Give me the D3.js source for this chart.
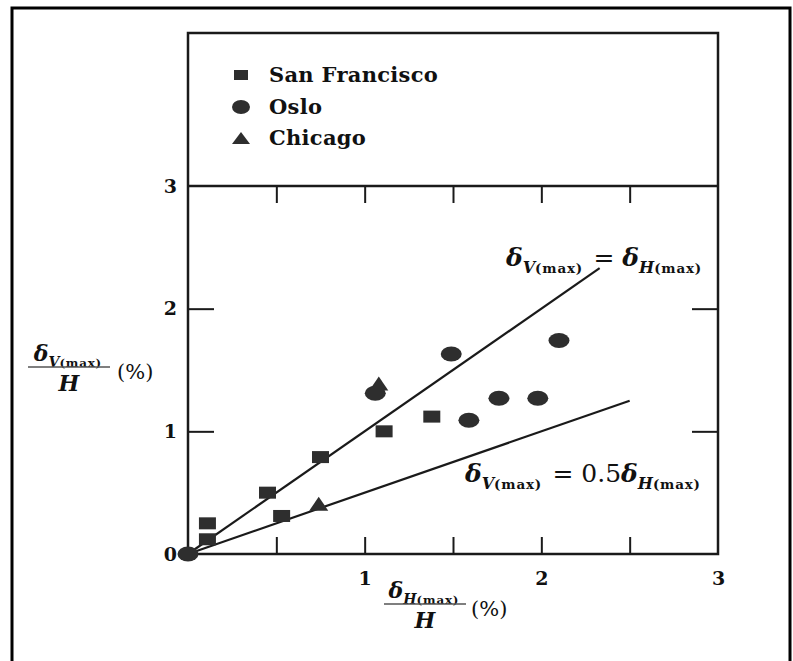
<!DOCTYPE html>
<html>
<head>
<meta charset="utf-8">
<script src="https://cdn.jsdelivr.net/npm/d3@7"></script>
<style>
  body { margin: 0; background: #fff; }
  svg { display: block; }
  text { font-family: "DejaVu Serif", "Liberation Serif", serif; fill: #111; }
</style>
</head>
<body>
<script>
// Data (x = dH(max)/H %, y = dV(max)/H %)
const sanFrancisco = [
    [0.11, 0.25], [0.11, 0.12], [0.45, 0.50], [0.53, 0.31],
    [0.75, 0.79], [1.11, 1.00], [1.38, 1.12]
];
const oslo = [
    [0.0, 0.0], [1.06, 1.31], [1.49, 1.63], [1.59, 1.09],
    [1.76, 1.27], [1.98, 1.27], [2.10, 1.74]
];
const chicago = [[0.74, 0.41], [1.08, 1.39]];
const legendNames = ["San Francisco", "Oslo", "Chicago"];
const refLines = [
    { slope: 1.0, xEnd: 2.33 },
    { slope: 0.5, xEnd: 2.50 }
];
const minorTicks = [0.5, 1, 1.5, 2, 2.5];
const xLabels = [1, 2, 3];
const yTicks = [1, 2];
const yLabels = [0, 1, 2, 3];

const width = 793, height = 661;
const left = 188, right = 718, bottom = 554, top3 = 186, boxTop = 33;
const ink = "#1a1a1a";

const svg = d3.select("body").append("svg")
    .attr("width", width)
    .attr("height", height);

const x = d3.scaleLinear().domain([0, 3]).range([left, right]);
const y = d3.scaleLinear().domain([0, 3]).range([bottom, top3]);

// Outer frame (runs off the bottom of the page)
svg.append("rect")
    .attr("x", 12).attr("y", 8)
    .attr("width", 778).attr("height", 720)
    .attr("fill", "none").attr("stroke", "#000").attr("stroke-width", 3);

// Main box incl. legend panel
svg.append("rect")
    .attr("x", left).attr("y", boxTop)
    .attr("width", right - left).attr("height", bottom - boxTop)
    .attr("fill", "none").attr("stroke", ink).attr("stroke-width", 2.5);
svg.append("line")
    .attr("x1", left).attr("x2", right)
    .attr("y1", top3).attr("y2", top3)
    .attr("stroke", ink).attr("stroke-width", 2.5);

// Ticks (all pointing inward)
function styleAxis(g) {
    g.select(".domain").remove();
    g.selectAll(".tick line").attr("stroke", ink).attr("stroke-width", 2);
}
svg.append("g").attr("transform", `translate(0,${bottom})`)
    .call(d3.axisBottom(x).tickValues(minorTicks).tickSizeInner(-17).tickSizeOuter(0).tickFormat(""))
    .call(styleAxis);
svg.append("g").attr("transform", `translate(0,${top3})`)
    .call(d3.axisTop(x).tickValues(minorTicks).tickSizeInner(-17).tickSizeOuter(0).tickFormat(""))
    .call(styleAxis);
svg.append("g").attr("transform", `translate(${left},0)`)
    .call(d3.axisLeft(y).tickValues(yTicks).tickSizeInner(-26).tickSizeOuter(0).tickFormat(""))
    .call(styleAxis);
svg.append("g").attr("transform", `translate(${right},0)`)
    .call(d3.axisRight(y).tickValues(yTicks).tickSizeInner(-26).tickSizeOuter(0).tickFormat(""))
    .call(styleAxis);

// Tick labels
const xl = svg.append("g").attr("transform", `translate(0,${bottom})`)
    .call(d3.axisBottom(x).tickValues(xLabels).tickSize(0).tickPadding(18).tickFormat(d3.format("d")));
xl.select(".domain").remove();
const yl = svg.append("g").attr("transform", `translate(${left},0)`)
    .call(d3.axisLeft(y).tickValues(yLabels).tickSize(0).tickPadding(11).tickFormat(d3.format("d")));
yl.select(".domain").remove();
svg.selectAll(".tick text")
    .attr("font-family", "DejaVu Serif").attr("font-size", 19)
    .attr("font-weight", "bold").attr("fill", ink);

// Reference lines
svg.append("g").selectAll("line")
    .data(refLines)
    .join("line")
    .attr("x1", x(0)).attr("y1", y(0))
    .attr("x2", d => x(d.xEnd)).attr("y2", d => y(d.xEnd * d.slope))
    .attr("stroke", ink).attr("stroke-width", 2.2);

// Marker shapes
function drawSquare(g, cx, cy, w, h) {
    g.append("rect").attr("x", cx - w / 2).attr("y", cy - h / 2)
        .attr("width", w).attr("height", h).attr("fill", "#2e2e2e");
}
function drawCircle(g, cx, cy, rx, ry) {
    g.append("ellipse").attr("cx", cx).attr("cy", cy)
        .attr("rx", rx).attr("ry", ry).attr("fill", "#2e2e2e");
}
function drawTriangle(g, cx, cy, w, h) {
    g.append("path")
        .attr("d", `M${cx - w / 2},${cy + h / 2}L${cx},${cy - h / 2}L${cx + w / 2},${cy + h / 2}Z`)
        .attr("fill", "#2e2e2e");
}

const pts = svg.append("g");
sanFrancisco.forEach(d => drawSquare(pts, x(d[0]), y(d[1]), 17, 12));
oslo.forEach(d => drawCircle(pts, x(d[0]), y(d[1]), 10.5, 7.5));
chicago.forEach(d => drawTriangle(pts, x(d[0]), y(d[1]), 19, 14));

// Legend
const legend = svg.append("g");
const legY = [75, 107, 138];
drawSquare(legend, 241, legY[0], 14, 10);
drawCircle(legend, 241, legY[1], 9, 7);
drawTriangle(legend, 241, legY[2], 18, 12);
legend.selectAll("text")
    .data(legendNames)
    .join("text")
    .attr("x", 269)
    .attr("y", (d, i) => legY[i] + 7)
    .attr("font-size", 21)
    .attr("font-weight", "bold")
    .attr("letter-spacing", 0.3)
    .text(d => d);

// Delta with subscript helper
function delta(t, sub, size) {
    t.append("tspan").attr("font-style", "italic").attr("font-weight", "bold")
        .attr("font-size", size).text("δ");
    t.append("tspan").attr("dy", size * 0.28).attr("font-style", "italic").attr("font-weight", "bold")
        .attr("font-size", size * 0.64).text(sub);
    t.append("tspan").attr("font-weight", "bold").attr("letter-spacing", 0.8)
        .attr("font-size", size * 0.54).text("(max)");
    t.append("tspan").attr("dy", -size * 0.28).attr("font-size", size).text("\u200a");
}

// Line annotations
const a1 = svg.append("text").attr("x", 506).attr("y", 266);
delta(a1, "V", 25);
a1.append("tspan").attr("font-size", 25).text(" = ");
delta(a1, "H", 25);

const a2 = svg.append("text").attr("x", 465).attr("y", 482);
delta(a2, "V", 25);
a2.append("tspan").attr("font-size", 25).text(" = 0.5");
delta(a2, "H", 25);

// Axis titles (fractions)
function fraction(cx, barY, sub, pctX) {
    const g = svg.append("g");
    const num = g.append("text").attr("x", cx).attr("y", barY - 6).attr("text-anchor", "middle");
    delta(num, sub, 22);
    g.append("line").attr("x1", cx - 41).attr("x2", cx + 41)
        .attr("y1", barY).attr("y2", barY)
        .attr("stroke", "#555").attr("stroke-width", 1.5);
    g.append("text").attr("x", cx).attr("y", barY + 24).attr("text-anchor", "middle")
        .attr("font-size", 22).attr("font-weight", "bold").attr("font-style", "italic").text("H");
    g.append("text").attr("x", pctX).attr("y", barY + 12)
        .attr("font-size", 21).text("(%)");
}
fraction(69, 367, "V", 117);
fraction(425, 604, "H", 471);
</script>
</body>
</html>
